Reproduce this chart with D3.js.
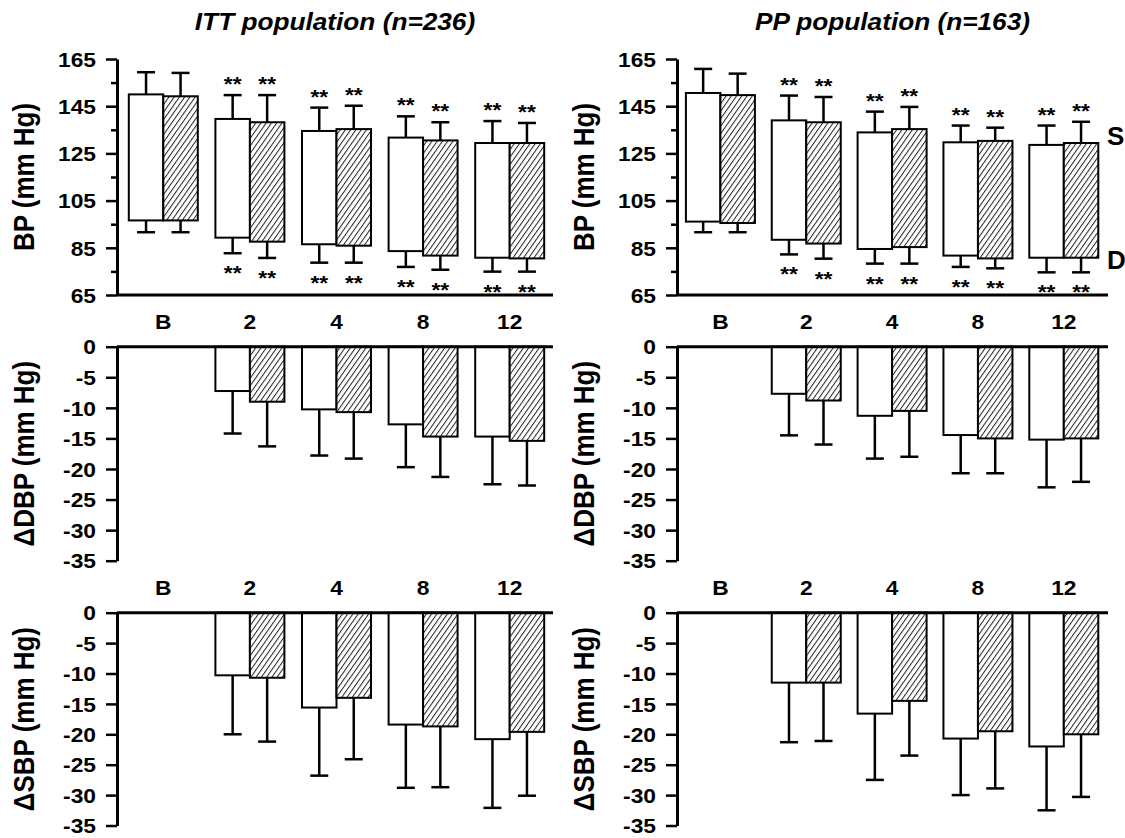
<!DOCTYPE html>
<html>
<head>
<meta charset="utf-8">
<script src="https://cdn.jsdelivr.net/npm/d3@7"></script>
<style>
  body { margin: 0; background: #fff; }
  text { font-family: "Liberation Sans", Arial, sans-serif; font-weight: bold; fill: #000; }
</style>
</head>
<body>
<svg id="chart" width="1125" height="838"></svg>
<script>
// Data

var weeks = ["B", "2", "4", "8", "12"];
var changeWeeks = ["2", "4", "8", "12"];
var groups = ["open", "hatched"];
var bpTicks = [65, 85, 105, 125, 145, 165];
var bpMinorTicks = [75, 95, 115, 135, 155];
var changeTicks = [0, -5, -10, -15, -20, -25, -30, -35];
var sigMarks = ["", "**", "**", "**", "**"];

// ITT population (n=236), mean and SD
var ittSbpOpen = [150.0, 139.6, 134.5, 131.7, 129.4];
var ittSbpOpenSd = [9.4, 10.1, 9.9, 9.0, 9.3];
var ittSbpHatched = [149.2, 138.2, 135.3, 130.5, 129.4];
var ittSbpHatchedSd = [9.9, 11.5, 9.9, 7.7, 8.5];
var ittDbpOpen = [96.6, 89.3, 86.5, 83.6, 80.8];
var ittDbpOpenSd = [5.0, 6.6, 7.8, 6.7, 5.9];
var ittDbpHatched = [96.6, 87.6, 85.9, 81.7, 80.5];
var ittDbpHatchedSd = [5.0, 6.9, 7.2, 6.0, 5.6];

var ittDdbpOpen = [-7.25, -10.25, -12.7, -14.7];
var ittDdbpOpenSd = [6.95, 7.55, 7.0, 7.8];
var ittDdbpHatched = [-9.0, -10.7, -14.7, -15.4];
var ittDdbpHatchedSd = [7.3, 7.6, 6.6, 7.3];
var ittDsbpOpen = [-10.3, -15.6, -18.4, -20.8];
var ittDsbpOpenSd = [9.7, 11.2, 10.4, 11.3];
var ittDsbpHatched = [-10.7, -14.0, -18.7, -19.6];
var ittDsbpHatchedSd = [10.5, 10.1, 10.0, 10.5];

// PP population (n=163), mean and SD
var ppSbpOpen = [150.6, 139.0, 133.9, 129.7, 128.6];
var ppSbpOpenSd = [10.2, 10.5, 8.8, 7.1, 8.2];
var ppSbpHatched = [149.7, 138.2, 135.3, 130.3, 129.4];
var ppSbpHatchedSd = [9.1, 10.7, 9.4, 5.6, 9.0];
var ppDbpOpen = [96.1, 88.4, 84.5, 81.7, 80.8];
var ppDbpOpenSd = [4.5, 6.2, 6.2, 4.8, 6.2];
var ppDbpHatched = [95.5, 86.8, 85.3, 80.5, 80.8];
var ppDbpHatchedSd = [3.9, 6.4, 7.0, 4.2, 6.2];

var ppDdbpOpen = [-7.7, -11.3, -14.45, -15.2];
var ppDdbpOpenSd = [6.8, 7.0, 6.25, 7.8];
var ppDdbpHatched = [-8.8, -10.5, -15.0, -15.0];
var ppDdbpHatchedSd = [7.2, 7.5, 5.7, 7.1];
var ppDsbpOpen = [-11.5, -16.6, -20.7, -22.0];
var ppDsbpOpenSd = [9.8, 10.9, 9.3, 10.5];
var ppDsbpHatched = [-11.5, -14.5, -19.5, -20.0];
var ppDsbpHatchedSd = [9.6, 9.0, 9.4, 10.3];

// Layout

var stretch = 1.14;   // the original figure is a bit wider than tall
var barW = 34.5;
var cols = [
  {axisX: 117, endX: 553, centers: [163.3, 509.7], labelX: 34, title: "ITT population (n=236)"},
  {axisX: 677, endX: 1108, centers: [720.4, 1063.8], labelX: 594, title: "PP population (n=163)"}
];
var bpRange = [295, 59];
var ddbpRange = [346.7, 560.7];
var dsbpRange = [612.7, 825.5];

var svg = d3.select("#chart");

var defs = svg.append("defs");
var pat = defs.append("pattern")
  .attr("id", "hatch")
  .attr("patternUnits", "userSpaceOnUse")
  .attr("width", 4.3).attr("height", 10)
  .attr("patternTransform", "rotate(35)");
pat.append("rect").attr("width", 4.3).attr("height", 10).attr("fill", "#fff");
pat.append("line").attr("x1", 0.5).attr("y1", 0).attr("x2", 0.5).attr("y2", 10)
  .attr("stroke", "#222").attr("stroke-width", 1);

function fillFor(g) { return g === "open" ? "#fff" : "url(#hatch)"; }

// Add panels

addBpPanel(cols[0], [ittSbpOpen, ittSbpOpenSd, ittSbpHatched, ittSbpHatchedSd, ittDbpOpen, ittDbpOpenSd, ittDbpHatched, ittDbpHatchedSd]);
addBpPanel(cols[1], [ppSbpOpen, ppSbpOpenSd, ppSbpHatched, ppSbpHatchedSd, ppDbpOpen, ppDbpOpenSd, ppDbpHatched, ppDbpHatchedSd]);
addChangePanel(cols[0], ddbpRange, "\u0394DBP (mm Hg)", [ittDdbpOpen, ittDdbpOpenSd, ittDdbpHatched, ittDdbpHatchedSd]);
addChangePanel(cols[1], ddbpRange, "\u0394DBP (mm Hg)", [ppDdbpOpen, ppDdbpOpenSd, ppDdbpHatched, ppDdbpHatchedSd]);
addChangePanel(cols[0], dsbpRange, "\u0394SBP (mm Hg)", [ittDsbpOpen, ittDsbpOpenSd, ittDsbpHatched, ittDsbpHatchedSd]);
addChangePanel(cols[1], dsbpRange, "\u0394SBP (mm Hg)", [ppDsbpOpen, ppDsbpOpenSd, ppDsbpHatched, ppDsbpHatchedSd]);

// S / D markers on the right panel
var ySD = d3.scaleLinear().domain([65, 165]).range(bpRange);
svg.selectAll("text.sd")
  .data([["S", 132.5], ["D", 80]])
  .enter().append("text")
  .attr("class", "sd")
  .attr("x", 1107)
  .attr("y", function(d) { return ySD(d[1]); })
  .attr("dy", "0.36em")
  .style("font-size", "26px")
  .text(function(d) { return d[0]; });

// Functions

function stretchedText(parent, x, y, str, size, anchor) {
  return parent.append("text")
    .attr("transform", "translate(" + x + "," + y + ") scale(" + stretch + ",1)")
    .attr("text-anchor", anchor || "middle")
    .style("font-size", size + "px")
    .text(str);
}

function yAxis(g, col, y, ticks, minor) {
  var ax = g.append("g")
    .attr("transform", "translate(" + col.axisX + ",0)")
    .call(d3.axisLeft(y).tickValues(ticks).tickSize(11).tickSizeOuter(0)
      .tickFormat(function(d) { return String(d); }));
  ax.select(".domain").attr("stroke-width", 3);
  ax.selectAll(".tick line").attr("stroke-width", 2.5);
  ax.selectAll(".tick text")
    .attr("x", -21 / stretch)
    .attr("dy", "0.36em")
    .attr("transform", "scale(" + stretch + ",1)")
    .style("font-size", "20px")
    .attr("font-family", null);
  if (minor) {
    var mx = g.append("g")
      .attr("transform", "translate(" + col.axisX + ",0)")
      .call(d3.axisLeft(y).tickValues(minor).tickSize(6).tickFormat(""));
    mx.select(".domain").remove();
    mx.selectAll(".tick line").attr("stroke-width", 2.5);
  }
}

function axisTitle(g, col, y, str) {
  var mid = (y.range()[0] + y.range()[1]) / 2;
  g.append("text")
    .attr("transform", "translate(" + col.labelX + "," + mid + ") scale(" + stretch + ",1) rotate(-90)")
    .attr("text-anchor", "middle")
    .style("font-size", "26px")
    .text(str);
}

function whisker(g, x, y1, y2) {
  g.append("line").attr("x1", x).attr("x2", x).attr("y1", y1).attr("y2", y2)
    .attr("stroke", "#000").attr("stroke-width", 2.5);
  g.append("line").attr("x1", x - 9).attr("x2", x + 9).attr("y1", y2).attr("y2", y2)
    .attr("stroke", "#000").attr("stroke-width", 2.5);
}

function addBpPanel(col, d) {
  var g = svg.append("g");
  var x = d3.scalePoint().domain(weeks).range(col.centers);
  var xi = d3.scaleBand().domain(groups).range([-barW, barW]);
  var y = d3.scaleLinear().domain([65, 165]).range(bpRange);

  var series = groups.map(function(s, k) {
    return weeks.map(function(w, i) {
      return {week: w, group: s, sbp: d[k * 2][i], sbpSd: d[k * 2 + 1][i],
              dbp: d[4 + k * 2][i], dbpSd: d[5 + k * 2][i], sig: sigMarks[i]};
    });
  });
  var items = series[0].concat(series[1]);

  items.forEach(function(p) {
    var cx = x(p.week) + xi(p.group) + xi.bandwidth() / 2;
    whisker(g, cx, y(p.sbp), y(p.sbp + p.sbpSd));
    whisker(g, cx, y(p.dbp), y(p.dbp - p.dbpSd));
    g.append("rect")
      .attr("x", x(p.week) + xi(p.group))
      .attr("y", y(p.sbp))
      .attr("width", xi.bandwidth())
      .attr("height", y(p.dbp) - y(p.sbp))
      .attr("fill", fillFor(p.group))
      .attr("stroke", "#000")
      .attr("stroke-width", 2);
    if (p.sig) {
      stretchedText(g, cx, y(p.sbp + p.sbpSd) - 4, p.sig, 20);
      stretchedText(g, cx, y(p.dbp - p.dbpSd) + 27, p.sig, 20);
    }
  });

  yAxis(g, col, y, bpTicks, bpMinorTicks);
  g.append("line")
    .attr("x1", col.axisX).attr("x2", col.endX)
    .attr("y1", y(65)).attr("y2", y(65))
    .attr("stroke", "#000").attr("stroke-width", 3);

  weeks.forEach(function(w) { stretchedText(g, x(w), 329, w, 20); });
  axisTitle(g, col, y, "BP (mm Hg)");
  stretchedText(g, (col.axisX + col.endX) / 2, 30, col.title, 23)
    .style("font-style", "italic");
}

function addChangePanel(col, range, label, d) {
  var g = svg.append("g");
  var x = d3.scalePoint().domain(weeks).range(col.centers);
  var xi = d3.scaleBand().domain(groups).range([-barW, barW]);
  var y = d3.scaleLinear().domain([0, -35]).range(range);

  groups.forEach(function(s, k) {
    changeWeeks.forEach(function(w, i) {
      var v = d[k * 2][i], sd = d[k * 2 + 1][i];
      var cx = x(w) + xi(s) + xi.bandwidth() / 2;
      whisker(g, cx, y(v), y(v - sd));
      g.append("rect")
        .attr("x", x(w) + xi(s))
        .attr("y", y(0))
        .attr("width", xi.bandwidth())
        .attr("height", y(v) - y(0))
        .attr("fill", fillFor(s))
        .attr("stroke", "#000")
        .attr("stroke-width", 2);
    });
  });

  yAxis(g, col, y, changeTicks, null);
  g.append("line")
    .attr("x1", col.axisX).attr("x2", col.endX)
    .attr("y1", y(0)).attr("y2", y(0))
    .attr("stroke", "#000").attr("stroke-width", 3);
  axisTitle(g, col, y, label);

  if (range === ddbpRange) {
    weeks.forEach(function(w) { stretchedText(g, x(w), 595, w, 20); });
  }
}
</script>
</body>
</html>
